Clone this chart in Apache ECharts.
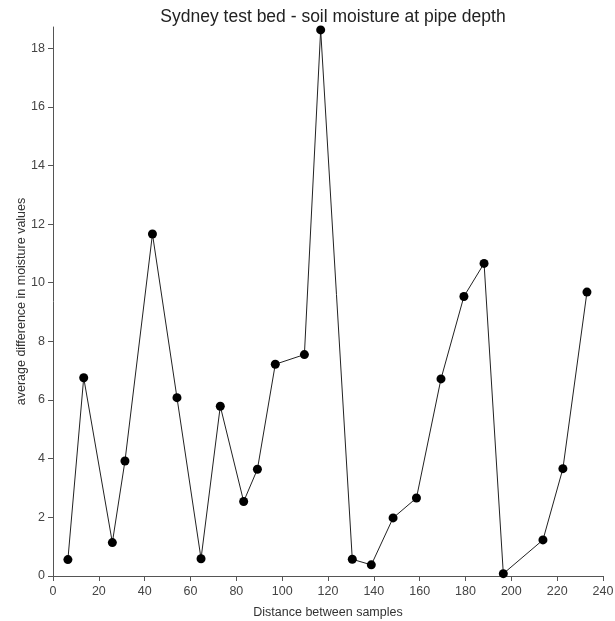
<!DOCTYPE html>
<html><head><meta charset="utf-8">
<script src="https://cdn.jsdelivr.net/npm/echarts@6/dist/echarts.min.js"></script>
<style>html,body{margin:0;padding:0;background:#fff}#c{width:615px;height:621px}</style>
</head><body><div id="c"></div>
<script>
const distances = [6.5, 13.4, 25.9, 31.4, 43.4, 54.1, 64.6, 73.0, 83.2, 89.2, 97.0, 109.7, 116.8, 130.6, 138.9, 148.4, 158.6, 169.3, 179.3, 188.1, 196.5, 213.8, 222.5, 233.0];
const moisture = [0.56, 6.76, 1.14, 3.92, 11.66, 6.08, 0.59, 5.79, 2.54, 3.64, 7.22, 7.55, 18.62, 0.57, 0.38, 1.98, 2.66, 6.72, 9.53, 10.66, 0.08, 1.23, 3.66, 9.68];
const xTicks = [0, 20, 40, 60, 80, 100, 120, 140, 160, 180, 200, 220, 240];
const yTicks = [0, 2, 4, 6, 8, 10, 12, 14, 16, 18];

const points = distances.map((d, i) => [d, moisture[i]]);
const chart = echarts.init(document.getElementById('c'), null, {renderer: 'canvas'});
const axisCol = '#555';
const ff = 'Liberation Sans, Arial, sans-serif';
chart.setOption({
  animation: false,
  backgroundColor: '#fff',
  title: {
    text: 'Sydney test bed - soil moisture at pipe depth',
    left: 328, top: 3, textAlign: 'center',
    textStyle: {fontFamily: ff, fontSize: 17.5, fontWeight: 'normal', color: '#222'}
  },
  grid: {left: 53, right: 12, top: 27, bottom: 45, containLabel: false, outerBoundsMode: 'none'},
  xAxis: {
    type: 'value', min: 0, max: 240, interval: 20,
    name: 'Distance between samples', nameLocation: 'middle', nameGap: 30,
    nameTextStyle: {fontFamily: ff, fontSize: 12.5, color: '#333'},
    axisLine: {show: true, onZero: false, lineStyle: {color: axisCol, width: 1}},
    axisTick: {show: true, length: 5, lineStyle: {color: axisCol}},
    axisLabel: {fontFamily: ff, fontSize: 12.5, color: '#444', margin: 9,
      formatter: v => xTicks.includes(v) ? String(v) : ''},
    splitLine: {show: false}
  },
  yAxis: {
    type: 'value', min: 0, max: 18.72, interval: 2,
    name: 'average difference in moisture values', nameLocation: 'middle', nameGap: 25, nameRotate: 90,
    nameMoveOverlap: false,
    nameTextStyle: {fontFamily: ff, fontSize: 12.5, color: '#333'},
    axisLine: {show: true, onZero: false, lineStyle: {color: axisCol, width: 1}},
    axisTick: {show: true, length: 5, lineStyle: {color: axisCol}},
    axisLabel: {fontFamily: ff, fontSize: 12.5, color: '#444', margin: 8,
      showMaxLabel: false,
      formatter: v => yTicks.includes(v) ? String(v) : ''},
    splitLine: {show: false}
  },
  series: [{
    type: 'line',
    data: points,
    symbol: 'circle', symbolSize: 9,
    itemStyle: {color: '#000'},
    lineStyle: {color: '#222', width: 1},
    clip: false
  }]
});
</script></body></html>
